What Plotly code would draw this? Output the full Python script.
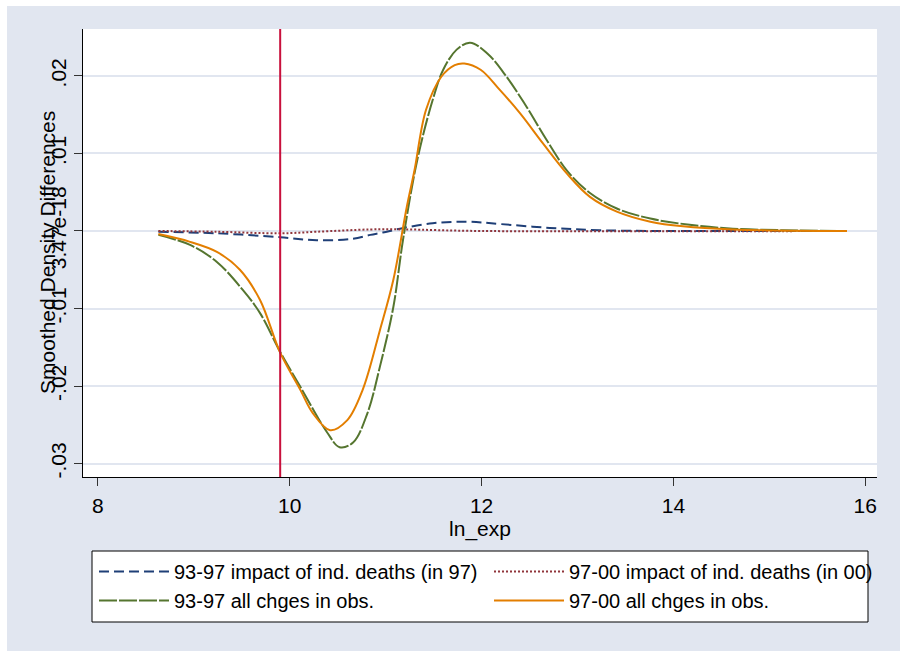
import plotly.graph_objects as go

# ---------------- data ----------------
x_imp9397 = [8.63, 9.24, 9.90, 10.28, 10.66, 10.84, 10.97, 11.15, 11.49, 11.85, 12.19, 12.71, 13.23, 13.93, 15.81]
y_imp9397 = [-0.0001, -0.0003, -0.0008, -0.0012, -0.0010, -0.0005, -0.0002, 0.0003, 0.0010, 0.0012, 0.0009, 0.0004, 0.0001, 0.0, 0.0]

x_imp9700 = [8.63, 9.24, 9.90, 10.28, 10.84, 11.20, 12.00, 15.81]
y_imp9700 = [0.0, -0.0001, -0.0003, -0.0001, 0.0002, 0.0002, 0.0, 0.0]

x_all9397 = [8.63, 8.96, 9.24, 9.51, 9.69, 9.90, 10.11, 10.39, 10.52, 10.66, 10.81, 10.94, 11.08, 11.18,
             11.33, 11.49, 11.60, 11.74, 11.88, 12.06, 12.26, 12.47, 12.68, 12.89, 13.13, 13.41, 13.76,
             14.17, 14.62, 15.14, 15.81]
y_all9397 = [-0.0005, -0.0018, -0.0040, -0.0076, -0.0106, -0.0156, -0.0201, -0.0260, -0.0279, -0.0273,
             -0.0235, -0.0175, -0.0098, -0.0012, 0.0092, 0.0169, 0.0208, 0.0234, 0.0243, 0.0229, 0.0199,
             0.0160, 0.0117, 0.0078, 0.0049, 0.0029, 0.0016, 0.0008, 0.0003, 0.0001, 0.0]

x_all9700 = [8.63, 8.96, 9.24, 9.48, 9.69, 9.90, 10.11, 10.24, 10.42, 10.60, 10.76, 10.94, 11.08, 11.22,
             11.30, 11.42, 11.58, 11.72, 11.82, 11.99, 12.19, 12.40, 12.64, 12.89, 13.13, 13.41, 13.76,
             14.10, 14.62, 15.81]
y_all9700 = [-0.0004, -0.0014, -0.0027, -0.0050, -0.0089, -0.0157, -0.0205, -0.0235, -0.0257, -0.0244,
             -0.0205, -0.0128, -0.0063, 0.0031, 0.0078, 0.0156, 0.0199, 0.0214, 0.0216, 0.0208, 0.0182,
             0.0152, 0.0113, 0.0074, 0.0044, 0.0025, 0.0012, 0.0006, 0.0002, 0.0]

names = ["93-97 impact of ind. deaths (in 97)", "97-00 impact of ind. deaths (in 00)",
         "93-97 all chges in obs.", "97-00 all chges in obs."]

y_tickvals = [-0.03, -0.02, -0.01, 0.0, 0.01, 0.02]
y_ticktext = ["-.03", "-.02", "-.01", "3.47e-18", ".01", ".02"]
x_tickvals = [8, 10, 12, 14, 16]
vline_x = 9.9

# ---------------- layout geometry ----------------
W, H = 910, 651
L, R, T, B = 83, 33, 29, 174
PW, PH = W - L - R, H - T - B


def px(xp):
    return (xp - L) / PW


def py(yp):
    return (H - B - yp) / PH


BG = "#E1E6F0"
FONT = "Liberation Sans, Arial, sans-serif"

fig = go.Figure()
fig.add_trace(go.Scatter(x=x_imp9397, y=y_imp9397, mode="lines", name=names[0], line_shape="spline",
                         line=dict(color="#1F3F77", width=2, dash="10px,5px")))
fig.add_trace(go.Scatter(x=x_imp9700, y=y_imp9700, mode="lines", name=names[1], line_shape="spline",
                         line=dict(color="#90353B", width=2, dash="2px,2px")))
fig.add_trace(go.Scatter(x=x_all9397, y=y_all9397, mode="lines", name=names[2], line_shape="spline",
                         line=dict(color="#55752F", width=2, dash="18px,2px")))
fig.add_trace(go.Scatter(x=x_all9700, y=y_all9700, mode="lines", name=names[3], line_shape="spline",
                         line=dict(color="#E37E00", width=2)))

fig.add_vline(x=vline_x, line=dict(color="#C8103C", width=2), layer="above")

shapes = [
    # white margins around the grey-blue graph region
    dict(type="rect", xref="paper", yref="paper", x0=-0.3, x1=1.3, y0=py(6), y1=1.3,
         fillcolor="white", line_width=0, layer="below"),
    dict(type="rect", xref="paper", yref="paper", x0=-0.3, x1=px(7), y0=-0.6, y1=1.3,
         fillcolor="white", line_width=0, layer="below"),
    dict(type="rect", xref="paper", yref="paper", x0=px(900), x1=1.3, y0=-0.6, y1=1.3,
         fillcolor="white", line_width=0, layer="below"),
    # legend box
    dict(type="rect", xref="paper", yref="paper", x0=px(92), x1=px(868), y0=py(622), y1=py(551),
         fillcolor="white", line=dict(color="black", width=1), layer="below"),
]
for s in shapes:
    fig.add_shape(**s)

fig.add_annotation(text="Smoothed Density Differences", xref="paper", yref="paper",
                   x=px(47), y=0.5, xanchor="center", yanchor="middle", textangle=-90,
                   showarrow=False, font=dict(family=FONT, size=21, color="black"))

fig.update_layout(
    width=W, height=H,
    margin=dict(l=L, r=R, t=T, b=B, autoexpand=False),
    paper_bgcolor=BG, plot_bgcolor="white",
    font=dict(family=FONT, size=21, color="black"),
    showlegend=True,
    legend=dict(orientation="h", x=px(94), y=py(552), xanchor="left", yanchor="top",
                bgcolor="rgba(0,0,0,0)", borderwidth=0, entrywidth=310, entrywidthmode="pixels",
                itemwidth=70, font=dict(family=FONT, size=20, color="black"),
                traceorder="normal", tracegroupgap=0),
    xaxis=dict(range=[7.844, 16.123], tickvals=x_tickvals, ticks="outside", ticklen=8,
               tickcolor="#333333", showline=True, linecolor="black", linewidth=1, showgrid=False,
               zeroline=False, tickfont=dict(size=21), ticklabelstandoff=2,
               title=dict(text="ln_exp", font=dict(size=21), standoff=0)),
    yaxis=dict(range=[-0.03174, 0.02606], tickvals=y_tickvals, ticktext=y_ticktext, tickangle=-90,
               ticks="outside", ticklen=8, tickcolor="#333333", showline=True, linecolor="black",
               linewidth=1, showgrid=True, gridcolor=BG, gridwidth=2, zeroline=False,
               tickfont=dict(size=21)),
)

fig.write_html("out.html")
